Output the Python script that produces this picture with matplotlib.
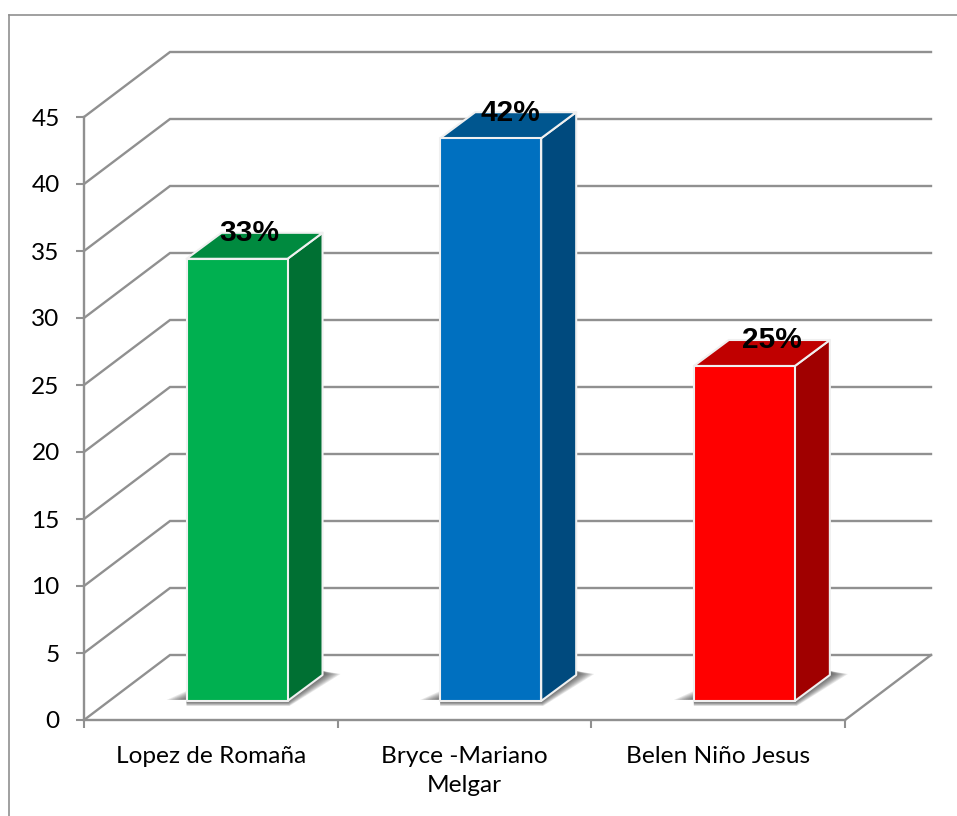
import matplotlib
matplotlib.use('Agg')
from matplotlib import pyplot as plt
from matplotlib.lines import Line2D
from matplotlib.patches import Polygon

# chart values
categories = ['Lopez de Romaña', 'Bryce -Mariano\nMelgar', 'Belen Niño Jesus']
values = [33, 42, 25]
labels = ['33%', '42%', '25%']
yticks = [0, 5, 10, 15, 20, 25, 30, 35, 40, 45]

# front, side and top colours of each bar
front_colors = ['#00B050', '#0070C0', '#FF0000']
side_colors = ['#007033', '#004A7E', '#A00000']
top_colors = ['#008A3F', '#00568F', '#C00000']

GRID = '#909090'
W, H = 957, 816

fig = plt.figure(figsize=(W / 100, H / 100), dpi=100)
# the axes sit on the front plane of the 3d box
ax = fig.add_axes([84 / W, 1 - 720 / H, 761 / W, 603 / H])
ax.set_xlim(0, 3)
ax.set_ylim(0, 45)

# pixel sizes converted to data units
ux = 3 / 761
uy = 45 / 603
wall_x, wall_y = 86 * ux, 65 * uy          # depth of the whole box
lift_x, lift_y = 26.2 * ux, 19 * uy        # bar front from the front plane
bar_dx, bar_dy = 35 * ux, 26 * uy          # depth of a bar
bar_w = 101 * ux

# walls: gridlines on the back and side, floor outline
for v in yticks:
    ax.plot([0, wall_x, 3 + wall_x], [v, v + wall_y, v + wall_y], color=GRID,
            lw=1.7, clip_on=False, zorder=1, solid_joinstyle='miter')
ax.plot([3, 3 + wall_x], [0, wall_y], color=GRID, lw=1.7, clip_on=False, zorder=1)

for i, v in enumerate(values):
    x0 = i + 0.5 - bar_w / 2 + lift_x
    x1 = x0 + bar_w
    y0 = lift_y
    y1 = lift_y + v

    # soft shadow on the floor, stacked translucent layers
    layers = 10
    for k in range(layers):
        s = (layers - k) / layers
        shadow = [(x0 - 20 * ux * s, y0 + 1 * uy), (x0, y0 + 10 * uy * s), (x0, y0 - 5 * uy * s),
                  (x1 + 2 * ux * s, y0 - 5 * uy * s),
                  (x1 + bar_dx + 18 * ux * s, y0 + bar_dy + 1 * uy),
                  (x1 + bar_dx, y0 + bar_dy + 4 * uy), (x1, y0 + 4 * uy)]
        ax.add_patch(Polygon(shadow, closed=True, fc='#303030', ec='none', alpha=0.11,
                             clip_on=False, zorder=2))

    # side, top and front faces
    side = [(x1, y0), (x1 + bar_dx, y0 + bar_dy), (x1 + bar_dx, y1 + bar_dy), (x1, y1)]
    top = [(x0, y1), (x0 + bar_dx, y1 + bar_dy), (x1 + bar_dx, y1 + bar_dy), (x1, y1)]
    front = [(x0, y0), (x0, y1), (x1, y1), (x1, y0)]
    for pts, c in zip([side, top, front], [side_colors[i], top_colors[i], front_colors[i]]):
        ax.add_patch(Polygon(pts, closed=True, fc=c, ec='#F0F0F0', lw=1.5,
                             clip_on=False, zorder=3, joinstyle='round'))

    # labels drift to the right from bar to bar in the original
    label_x = x0 + bar_w / 2 + (12.5 + 7.5 * i) * ux
    ax.annotate(labels[i], xy=(label_x, y1), xytext=(0, 28.5 * 0.72),
                textcoords='offset points', ha='center', va='center_baseline',
                fontsize=21.5, fontweight='bold', family='Liberation Sans',
                color='black', zorder=5, annotation_clip=False)

# axes lines and ticks
for side_name in ['top', 'right']:
    ax.spines[side_name].set_visible(False)
for side_name in ['left', 'bottom']:
    ax.spines[side_name].set_color(GRID)
    ax.spines[side_name].set_linewidth(1.7)
    ax.spines[side_name].set_zorder(4)
ax.patch.set_alpha(0)

ax.set_yticks(yticks)
ax.set_xticks([0, 1, 2, 3])
ax.set_xticklabels([])
ax.set_xticks([0.5, 1.5, 2.5], minor=True)
ax.set_xticklabels(categories, minor=True, fontsize=17.6, family='Lato', linespacing=1.48)
ax.tick_params(axis='x', which='major', length=6, width=1.5, color=GRID)
ax.tick_params(axis='x', which='minor', length=0, pad=18.5)
ax.tick_params(axis='y', length=6, width=1.5, color=GRID, pad=11.5, labelsize=17.6)
for t in ax.get_yticklabels():
    t.set_family('Lato')

# outer chart frame runs off the right and bottom of the image
frame_x = 9 / W
frame_y = 1 - 15 / H
fig.add_artist(Line2D([frame_x, frame_x], [0, frame_y], color=GRID, lw=1.2))
fig.add_artist(Line2D([frame_x, 1], [frame_y, frame_y], color=GRID, lw=1.2))

fig.savefig('out.png', dpi=100)
